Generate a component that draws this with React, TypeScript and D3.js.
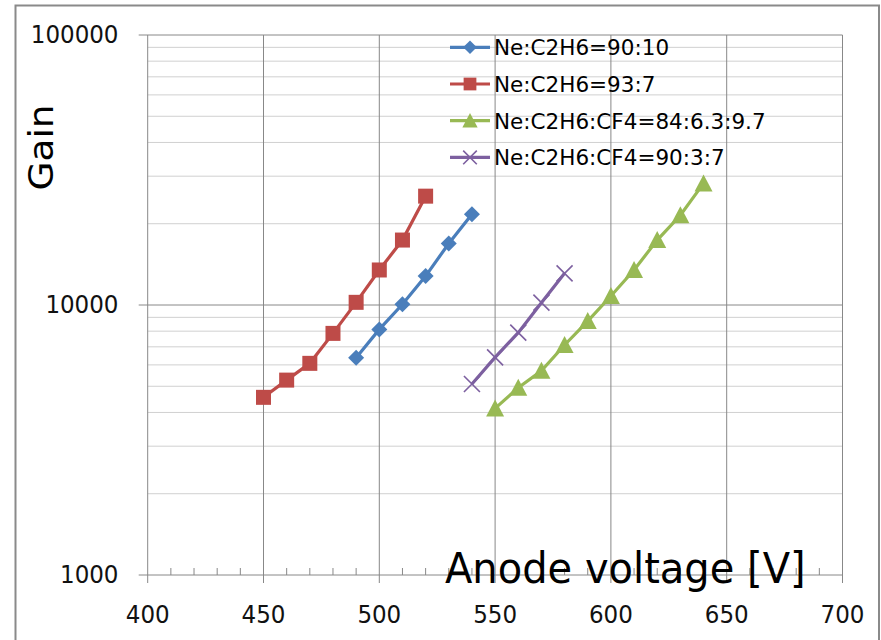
import React from "react";
import * as d3 from "d3";

const voltsA = [490, 500, 510, 520, 530, 540];
const gainA = [6380, 8120, 10060, 12800, 16900, 21700];
const voltsB = [450, 460, 470, 480, 490, 500, 510, 520];
const gainB = [4550, 5270, 6080, 7850, 10230, 13480, 17400, 25300];
const voltsC = [550, 560, 570, 580, 590, 600, 610, 620, 630, 640];
const gainC = [4140, 4940, 5710, 7110, 8720, 10800, 13480, 17400, 21500, 28200];
const voltsD = [540, 550, 560, 570, 580];
const gainD = [5100, 6400, 7900, 10200, 13100];

const seriesNames = [
  "Ne:C2H6=90:10",
  "Ne:C2H6=93:7",
  "Ne:C2H6:CF4=84:6.3:9.7",
  "Ne:C2H6:CF4=90:3:7",
];
const xTicks = [400, 450, 500, 550, 600, 650, 700];
const yTicks = [1000, 10000, 100000];
const xTitle = "Anode voltage [V]";
const yTitle = "Gain";

const colors = ["#4a7ebb", "#be4b48", "#98b954", "#7d60a0"];
const markers = ["diamond", "square", "triangle", "cross"];

function Marker({ type, x, y, color, s = 1 }: any) {
  if (type === "diamond") {
    const r = 8 * s;
    return <path d={`M${x},${y - r}L${x + r},${y}L${x},${y + r}L${x - r},${y}Z`} fill={color} />;
  }
  if (type === "square") {
    const h = 7.5 * s;
    return <rect x={x - h} y={y - h} width={2 * h} height={2 * h} fill={color} />;
  }
  if (type === "triangle") {
    const w = 9 * s;
    return <path d={`M${x},${y - 9 * s}L${x + w},${y + 8 * s}L${x - w},${y + 8 * s}Z`} fill={color} />;
  }
  const h = 8 * s;
  return (
    <path d={`M${x - h},${y - h}L${x + h},${y + h}M${x - h},${y + h}L${x + h},${y - h}`} stroke={color} strokeWidth={1.6} fill="none" />
  );
}

export default function App() {
  const x = d3.scaleLinear().domain([400, 700]).range([147.7, 842.5]);
  const y = d3.scaleLog().domain([1000, 100000]).range([575, 35]);
  const series = [
    { v: voltsA, g: gainA },
    { v: voltsB, g: gainB },
    { v: voltsC, g: gainC },
    { v: voltsD, g: gainD },
  ];
  const line = d3
    .line<[number, number]>()
    .x((d) => x(d[0]))
    .y((d) => y(d[1]));

  const minorY: number[] = [];
  for (const dec of [1000, 10000]) for (let m = 2; m <= 9; m++) minorY.push(dec * m);
  const minorX = d3.range(400, 701, 10).filter((v) => v % 50 !== 0);
  const x0 = x(400), x1 = x(700), yb = y(1000), yt = y(100000);
  const font = "'DejaVu Sans', Verdana, sans-serif";

  return (
    <svg width={881} height={640} style={{ position: "absolute", left: 0, top: 0 }} fontFamily={font}>
      <rect x={0} y={0} width={881} height={640} fill="#fff" />
      <rect x={15.5} y={5.5} width={863.5} height={660} fill="none" stroke="#8a8a8a" strokeWidth={2} />
      {minorY.map((v) => (
        <line key={"my" + v} x1={x0} x2={x1} y1={y(v)} y2={y(v)} stroke="#d0d0d0" strokeWidth={1} />
      ))}
      {yTicks.map((v) => (
        <line key={"gy" + v} x1={x0 - 9} x2={x1} y1={y(v)} y2={y(v)} stroke="#888" strokeWidth={1} />
      ))}
      {xTicks.map((v) => (
        <line key={"gx" + v} x1={x(v)} x2={x(v)} y1={yt} y2={yb + 8} stroke="#888" strokeWidth={1} />
      ))}
      {minorX.map((v) => (
        <line key={"mx" + v} x1={x(v)} x2={x(v)} y1={yb - 7} y2={yb} stroke="#888" strokeWidth={1} />
      ))}
      {series.map((s, i) => {
        const pts = s.v.map((v, j) => [v, s.g[j]] as [number, number]);
        return (
          <g key={"s" + i}>
            <path d={line(pts) || ""} fill="none" stroke={colors[i]} strokeWidth={3.2} />
            {pts.map((p, j) => (
              <Marker key={j} type={markers[i]} x={x(p[0])} y={y(p[1])} color={colors[i]} />
            ))}
          </g>
        );
      })}
      {yTicks.map((v) => (
        <text key={"ty" + v} transform={`translate(118.5,${y(v) + 8}) scale(1,1.1)`} textAnchor="end" fontSize={23} fill="#111">
          {String(v)}
        </text>
      ))}
      {xTicks.map((v) => (
        <text key={"tx" + v} transform={`translate(${x(v)},623) scale(1,1.1)`} textAnchor="middle" fontSize={23} fill="#111">
          {String(v)}
        </text>
      ))}
      <text transform={`translate(445,583) scale(1,1.08)`} fontSize={40} fill="#000">
        {xTitle}
      </text>
      <text transform={`translate(53,147.5) rotate(-90) scale(1.1,1)`} textAnchor="middle" fontSize={34} fill="#000">
        {yTitle}
      </text>
      {seriesNames.map((n, i) => {
        const cy = 47.3 + i * 36.7;
        return (
          <g key={"l" + i}>
            <line x1={450} x2={490} y1={cy} y2={cy} stroke={colors[i]} strokeWidth={3.2} />
            <Marker type={markers[i]} x={470} y={cy} color={colors[i]} s={0.85} />
            <text x={494} y={cy + 8} fontSize={21.5} fill="#000">
              {n}
            </text>
          </g>
        );
      })}
    </svg>
  );
}
